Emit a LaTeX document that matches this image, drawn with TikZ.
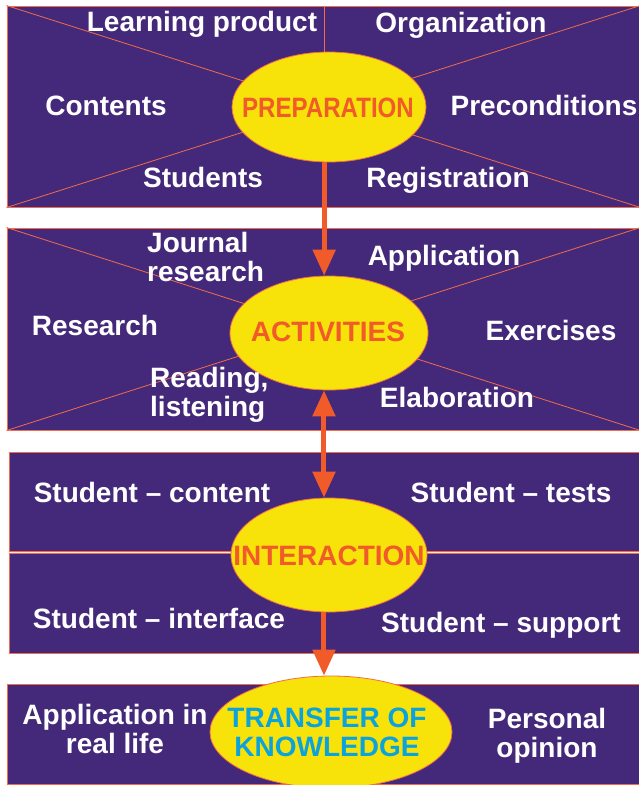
\documentclass[tikz,border=0pt]{standalone}
\usepackage{fontspec}
\setmainfont{Liberation Sans}
\usetikzlibrary{arrows.meta,shapes.geometric}
\definecolor{purp}{HTML}{44297A}
\definecolor{yel}{HTML}{F7E20A}
\definecolor{org}{HTML}{F15A29}
\definecolor{cyn}{HTML}{0AA3DC}
\definecolor{edgec}{HTML}{F26B4A}
\begin{document}
\begin{tikzpicture}[x=1pt,y=-1pt,
  panel/.style={rectangle, draw=edgec, line width=1pt, fill=purp, inner sep=0},
  diag/.style={draw=edgec, line width=0.8pt},
  oval/.style={ellipse, draw=edgec, line width=0.8pt, fill=yel, inner sep=0},
  lbl/.style={text=white, font=\bfseries\fontsize{28}{29}\selectfont, inner sep=0},
  core/.style={font=\bfseries\fontsize{28}{29}\selectfont, inner sep=0, text=org},
  arr/.style={draw=org, line width=5pt, -{Triangle[width=22pt,length=26pt]}},
  darr/.style={draw=org, line width=5pt, {Triangle[width=22pt,length=26pt]}-{Triangle[width=22pt,length=26pt]}}
]
\useasboundingbox[fill=white] (0,0) rectangle (639,785);

% panels
\node[panel, minimum width=633pt, minimum height=201pt] (b1) at (323.5,106.5) {};
\node[panel, minimum width=633pt, minimum height=202pt] (b2) at (323.5,329) {};
\node[panel, minimum width=631pt, minimum height=201pt] (b3) at (324.5,552.5) {};
\node[panel, minimum width=633pt, minimum height=100pt] (b4) at (323.5,734) {};

% diagonals
\draw[diag] (b1.north west) -- (b1.south east);
\draw[diag] (b1.south west) -- (b1.north east);
\draw[diag] (b2.north west) -- (b2.south east);
\draw[diag] (b2.south west) -- (b2.north east);
\draw[edgec, line width=3pt] (b3.west) -- (b3.east);
\draw[white!85!edgec, line width=1.2pt] (b3.west) -- (b3.east);

% ellipses
\node[oval, minimum width=194pt, minimum height=110pt] (e1) at (329,107) {};
\node[oval, minimum width=198pt, minimum height=114pt] (e2) at (329,333) {};
\node[oval, minimum width=196pt, minimum height=114pt] (e3) at (329,555) {};
\node[oval, minimum width=242pt, minimum height=112pt] (e4) at (331,732) {};

\draw[diag] (e1.95) -- (e1.95 |- b1.north);

% arrows
\draw[arr] (e1.265) -- (e1.265 |- e2.95);
\draw[darr] (e2.265) -- (e2.265 |- e3.95);
\draw[arr] (e3.265) -- (e3.265 |- e4.95);

% ellipse titles
\node[core] at (328,108) {\scalebox{0.86}[1]{PREPARATION}};
\node[core] at (328,332) {ACTIVITIES};
\node[core] at (329,556) {INTERACTION};
\node[core, text=cyn, align=center] at (327,732.5) {TRANSFER OF\\KNOWLEDGE};

% panel 1
\node[lbl, anchor=base] at (202,31) {Learning product};
\node[lbl, anchor=base] at (461,32) {Organization};
\node[lbl, anchor=base] at (106,115) {Contents};
\node[lbl, anchor=base] at (544,115) {Preconditions};
\node[lbl, anchor=base] at (203,187) {Students};
\node[lbl, anchor=base] at (448,187) {Registration};

% panel 2
\node[lbl, anchor=west, align=left] at (147,257.3) {Journal\\research};
\node[lbl, anchor=base] at (444,265) {Application};
\node[lbl, anchor=base] at (95,335) {Research};
\node[lbl, anchor=base] at (551,340) {Exercises};
\node[lbl, anchor=west, align=left] at (150,395.3) {Reading,\\listening};
\node[lbl, anchor=base] at (457,407) {Elaboration};

% panel 3
\node[lbl, anchor=base] at (152,502) {Student -- content};
\node[lbl, anchor=base] at (511,502) {Student -- tests};
\node[lbl, anchor=base] at (159,628) {Student -- interface};
\node[lbl, anchor=base] at (501,632) {Student -- support};

% panel 4
\node[lbl, align=center] at (115,729.3) {Application in\\real life};
\node[lbl, align=center] at (547,735.3) {Personal\\opinion};
\end{tikzpicture}
\end{document}
